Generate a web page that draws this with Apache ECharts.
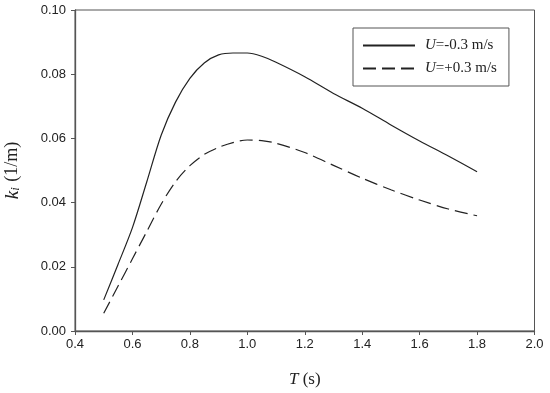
<!DOCTYPE html>
<html><head><meta charset="utf-8">
<script src="https://cdn.jsdelivr.net/npm/echarts@6/dist/echarts.min.js"></script>
<style>html,body{margin:0;padding:0;background:#fff}#c{width:550px;height:393px}</style>
</head><body><div id="c"></div>
<script>
var periods = [0.5,0.55,0.6,0.65,0.7,0.75,0.8,0.85,0.9,0.95,1.0,1.05,1.1,1.2,1.3,1.4,1.5,1.6,1.7,1.8];
var kiMinus = [0.0097,0.0208,0.0322,0.0465,0.0610,0.0713,0.0787,0.0835,0.0860,0.0866,0.0866,0.0856,0.0837,0.0792,0.0740,0.0694,0.0642,0.0592,0.0545,0.0496];
var kiPlus  = [0.0055,0.0140,0.0225,0.0310,0.0395,0.0465,0.0515,0.0550,0.0572,0.0587,0.0595,0.0593,0.0585,0.0556,0.0516,0.0476,0.0440,0.0408,0.0380,0.0359];
var seriesNames = ['U=-0.3 m/s','U=+0.3 m/s'];
var xTicks = {min:0.4,max:2.0,interval:0.2};
var yTicks = {min:0,max:0.1,interval:0.02};

function pairs(xs, ys){ return xs.map(function(x,i){return [x, ys[i]];}); }

var axisCol = '#555';
var chart = echarts.init(document.getElementById('c'));
chart.setOption({
  animation:false,
  backgroundColor:'#fff',
  grid:{left:75,right:15.5,top:10,bottom:62,containLabel:false,outerBoundsMode:'none',show:true,borderColor:axisCol,borderWidth:1,backgroundColor:'transparent'},
  legend:{
    orient:'vertical', left:353, top:28,
    data:seriesNames,
    itemWidth:52, itemHeight:14, itemGap:8,
    padding:[10,12,10,9],
    borderColor:'#555', borderWidth:1,
    itemStyle:{opacity:0},
    textStyle:{fontFamily:'Liberation Serif', fontSize:15, color:'#222', padding:[0,0,0,5],
      rich:{i:{fontFamily:'Liberation Serif',fontStyle:'italic',fontSize:15,color:'#222'}}},
    formatter:function(n){ return '{i|U}' + n.slice(1); }
  },
  xAxis:{
    type:'value', min:xTicks.min, max:xTicks.max, interval:xTicks.interval,
    axisLine:{lineStyle:{color:axisCol,width:1.3}},
    axisTick:{show:true,length:4,lineStyle:{color:axisCol}},
    splitLine:{show:false},
    axisLabel:{color:'#222',fontFamily:'Liberation Sans',fontSize:13,margin:7,formatter:function(v){return v.toFixed(1);}},
    name:'{i|T} (s)', nameLocation:'middle', nameGap:40,
    nameTextStyle:{fontFamily:'Liberation Serif',fontSize:17,color:'#222',
      rich:{i:{fontFamily:'Liberation Serif',fontStyle:'italic',fontSize:17,color:'#222'}}}
  },
  yAxis:{
    type:'value', min:yTicks.min, max:yTicks.max, interval:yTicks.interval,
    axisLine:{show:true,lineStyle:{color:axisCol,width:1.3}},
    axisTick:{show:true,length:4,lineStyle:{color:axisCol}},
    splitLine:{show:false},
    axisLabel:{color:'#222',fontFamily:'Liberation Sans',fontSize:13,margin:9,formatter:function(v){return v.toFixed(2);}},
    name:'{k|k}{s|i} (1/m)', nameLocation:'middle', nameGap:53,
    nameTextStyle:{fontFamily:'Liberation Serif',fontSize:18,color:'#222',
      rich:{
        k:{fontFamily:'Liberation Serif',fontStyle:'italic',fontSize:19,color:'#222',verticalAlign:'bottom'},
        s:{fontFamily:'Liberation Serif',fontStyle:'italic',fontSize:13,color:'#222',verticalAlign:'bottom',padding:[6,1,0,0]}
      }}
  },
  series:[
    {name:seriesNames[0], type:'line', data:pairs(periods,kiMinus), smooth:0.3, symbol:'none',
     lineStyle:{color:'#222',width:1.2,type:'solid'}, itemStyle:{color:'#222'}},
    {name:seriesNames[1], type:'line', data:pairs(periods,kiPlus), smooth:0.3, symbol:'none',
     lineStyle:{color:'#222',width:1.2,type:[13,6]}, itemStyle:{color:'#222'}}
  ]
});
</script></body></html>
